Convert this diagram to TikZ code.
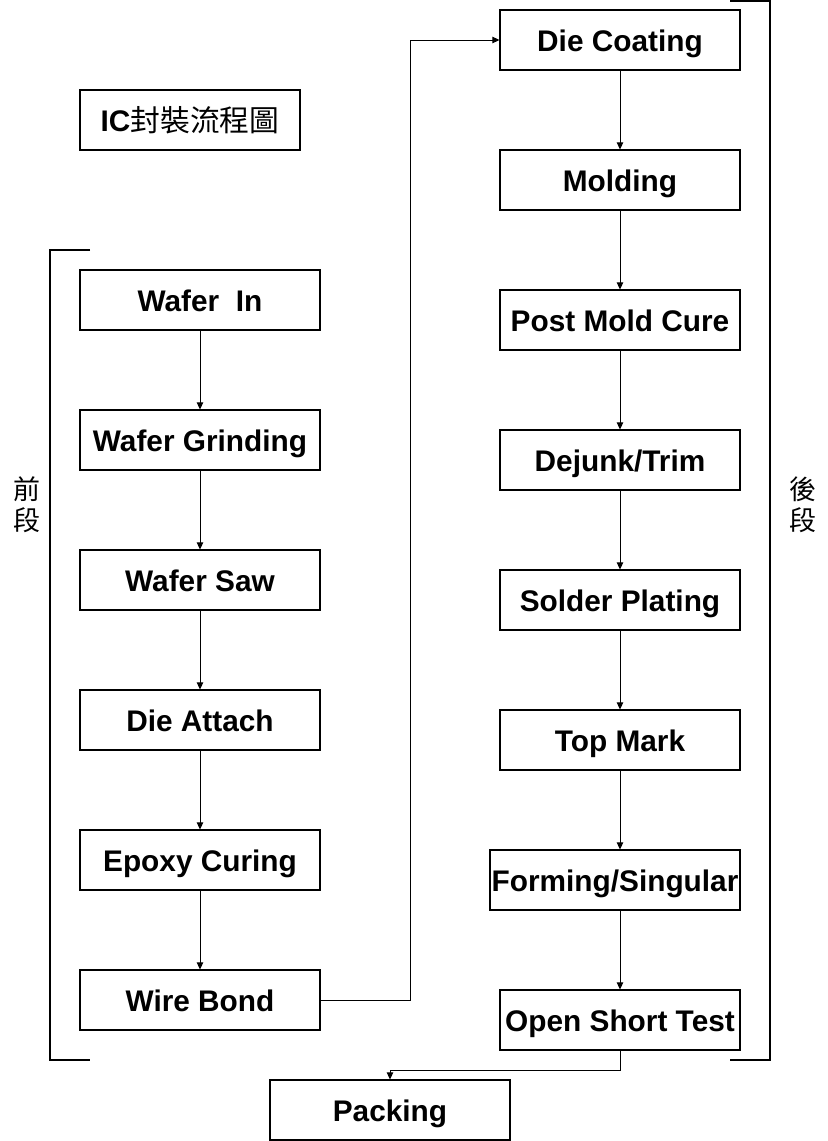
\documentclass[tikz,border=0pt]{standalone}
\usepackage{fontspec}
\setmainfont{Liberation Sans}
\newfontfamily\cjk{Noto Sans CJK TC}
\usetikzlibrary{arrows.meta}

\tikzset{
  box/.style={draw, line width=0.55pt, minimum width=120pt, minimum height=30pt,
    inner sep=0pt, text height=11.2pt, text depth=0pt,
    font=\fontsize{14.9}{17}\selectfont\bfseries},
  arr/.style={line width=0.5pt, -{Triangle[length=3.5pt,width=3.2pt]}},
  side/.style={font=\cjk\fontsize{13.5}{15.5}\selectfont, align=center}
}

\begin{document}
\begin{tikzpicture}[x=0.5pt,y=-0.5pt]
  \useasboundingbox (0,0) rectangle (828,1141);

  % title
  \node[box, minimum width=110pt] (title) at (190,120) {IC{\cjk\mdseries 封裝流程圖}};

  % front end
  \node[box] (waferin) at (200,300) {Wafer\ \ In};
  \node[box] (grinding) at (200,440) {Wafer Grinding};
  \node[box] (saw) at (200,580) {Wafer Saw};
  \node[box] (attach) at (200,720) {Die Attach};
  \node[box] (epoxy) at (200,860) {Epoxy Curing};
  \node[box] (wirebond) at (200,1000) {Wire Bond};

  % back end
  \node[box] (diecoat) at (620,40) {Die Coating};
  \node[box] (molding) at (620,180) {Molding};
  \node[box] (pmc) at (620,320) {Post Mold Cure};
  \node[box] (dejunk) at (620,460) {Dejunk/Trim};
  \node[box] (plating) at (620,600) {Solder Plating};
  \node[box] (topmark) at (620,740) {Top Mark};
  \node[box, minimum width=125pt] (forming) at (615,880) {Forming/Singular};
  \node[box] (opentest) at (620,1020) {Open Short Test};
  \node[box] (packing) at (390,1110) {Packing};

  \draw[arr] (waferin) -- (grinding);
  \draw[arr] (grinding) -- (saw);
  \draw[arr] (saw) -- (attach);
  \draw[arr] (attach) -- (epoxy);
  \draw[arr] (epoxy) -- (wirebond);
  \draw[arr] (wirebond.east) -- ++(90,0) |- (diecoat.west);
  \draw[arr] (diecoat) -- (molding);
  \draw[arr] (molding) -- (pmc);
  \draw[arr] (pmc) -- (dejunk);
  \draw[arr] (dejunk) -- (plating);
  \draw[arr] (plating) -- (topmark);
  \draw[arr] (topmark.south -| opentest.north) -- (opentest.north |- forming.north);
  \draw[arr] (opentest.north |- forming.south) -- (opentest.north);
  \draw[arr] (opentest.south) -- ++(0,20) -| (packing.north);

  % brackets
  \coordinate (ftop) at (90,250);
  \coordinate (fbot) at (90,1060);
  \coordinate (btop) at (730,1);
  \coordinate (bbot) at (730,1060);
  \draw[line width=0.55pt] (ftop) -- ++(-40,0) |- (fbot);
  \draw[line width=0.55pt] (btop) -- ++(40,0) |- (bbot);
  \node[side] (front) at (27,505) {前\\段};
  \node[side] (back) at (803,505) {後\\段};
\end{tikzpicture}
\end{document}
